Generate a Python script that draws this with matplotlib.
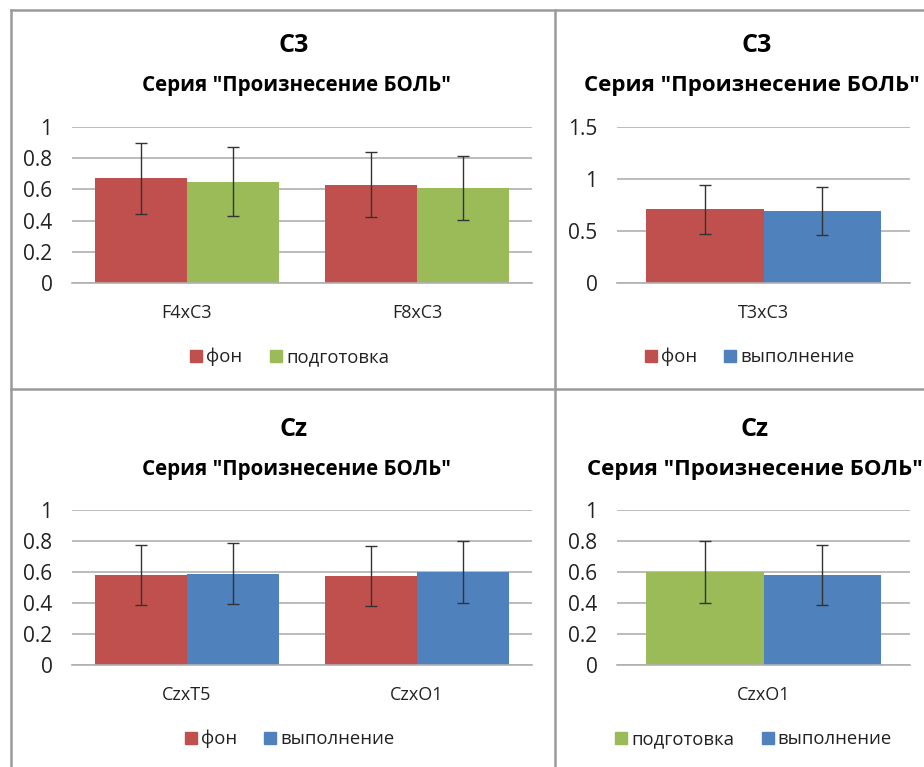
import matplotlib
matplotlib.use("Agg")
import matplotlib.pyplot as plt
from matplotlib.lines import Line2D
import numpy as np

plt.rcParams["font.family"] = ["Open Sans", "DejaVu Sans"]

W, H = 924, 767
RED = '#C0504D'
GREEN = '#9BBB59'
BLUE = '#4F81BD'

subtitle = 'Серия "Произнесение БОЛЬ"'

# panel 1: C3, фон vs подготовка
p1_cats = ['F4xC3', 'F8xC3']
p1_fon = [0.67, 0.63]
p1_fon_err = [0.225, 0.21]
p1_prep = [0.65, 0.61]
p1_prep_err = [0.22, 0.205]

# panel 2: C3, фон vs выполнение
p2_cats = ['T3xC3']
p2_fon = [0.71]
p2_fon_err = [0.235]
p2_exec = [0.69]
p2_exec_err = [0.23]

# panel 3: Cz, фон vs выполнение
p3_cats = ['CzxT5', 'CzxO1']
p3_fon = [0.58, 0.575]
p3_fon_err = [0.195, 0.195]
p3_exec = [0.59, 0.60]
p3_exec_err = [0.195, 0.20]

# panel 4: Cz, подготовка vs выполнение
p4_cats = ['CzxO1']
p4_prep = [0.60]
p4_prep_err = [0.20]
p4_exec = [0.58]
p4_exec_err = [0.195]


def rect(x0, y0, x1, y1):
    return [x0 / W, 1 - y1 / H, (x1 - x0) / W, (y1 - y0) / H]


def panel(fig, box, cats, s1, e1, c1, n1, s2, e2, c2, n2, yticks, title, tx, ty, sx, ssize, leg_x):
    ax = fig.add_axes(rect(*box))
    x = np.arange(len(cats))
    w = 0.4
    ax.bar(x - w / 2, s1, w, color=c1, zorder=2)
    ax.bar(x + w / 2, s2, w, color=c2, zorder=2)
    ax.errorbar(x - w / 2, s1, yerr=e1, fmt='none', ecolor='#333333', elinewidth=1, capsize=4, capthick=1, zorder=3)
    ax.errorbar(x + w / 2, s2, yerr=e2, fmt='none', ecolor='#333333', elinewidth=1, capsize=4, capthick=1, zorder=3)
    ax.set_xlim(-0.5, len(cats) - 0.5)
    ax.set_ylim(yticks[0], yticks[-1])
    ax.set_yticks(yticks)
    ax.set_yticklabels([('%g' % t) for t in yticks])
    ax.set_xticks(x)
    ax.set_xticklabels(cats, fontsize=13, color='#222222')
    ax.tick_params(axis='x', length=0, pad=15)
    ax.tick_params(axis='y', length=0, pad=14, labelsize=15, labelcolor='#222222')
    ax.yaxis.grid(True, color='#b0b0b0', lw=1.2, zorder=0)
    for s in ['top', 'right', 'left']:
        ax.spines[s].set_visible(False)
    ax.spines['bottom'].set_color('#b0b0b0')
    ax.spines['bottom'].set_linewidth(1.2)
    ax.set_facecolor('none')

    fig.text(tx / W, 1 - ty / H, title, ha='center', va='center', fontsize=18, fontweight='bold')
    fig.text(sx / W, 1 - (ty + 40) / H, subtitle, ha='center', va='center', fontsize=ssize, fontweight='bold')

    handles = [Line2D([], [], marker='s', color=c1, ls='none', markersize=9),
               Line2D([], [], marker='s', color=c2, ls='none', markersize=9)]
    leg_y = box[3] + 74
    fig.legend(handles, [n1, n2], loc='center', bbox_to_anchor=(leg_x / W, 1 - leg_y / H),
               ncol=2, frameon=False, fontsize=13.3, handletextpad=0.05, columnspacing=1.3,
               handlelength=1.0, labelcolor='#222222')
    return ax


fig = plt.figure(figsize=(W / 100, H / 100), dpi=100)

# panel frames
frame = dict(color='#9a9a9a', lw=1.8, transform=fig.transFigure, clip_on=False)
fig.add_artist(Line2D([11 / W, 11 / W], [1 - 10 / H, 0], **frame))
fig.add_artist(Line2D([11 / W, 1], [1 - 10 / H, 1 - 10 / H], **frame))
fig.add_artist(Line2D([555 / W, 555 / W], [1 - 10 / H, 0], **frame))
fig.add_artist(Line2D([11 / W, 1], [1 - 389 / H, 1 - 389 / H], **frame))

panel(fig, (72, 127, 532, 283), p1_cats, p1_fon, p1_fon_err, RED, 'фон',
      p1_prep, p1_prep_err, GREEN, 'подготовка', [0, 0.2, 0.4, 0.6, 0.8, 1.0],
      'C3', 294, 46, 296, 14.8, 288)
panel(fig, (617, 127, 910, 283), p2_cats, p2_fon, p2_fon_err, RED, 'фон',
      p2_exec, p2_exec_err, BLUE, 'выполнение', [0, 0.5, 1.0, 1.5],
      'C3', 757, 46, 752, 16, 748)
panel(fig, (72, 510, 532, 665), p3_cats, p3_fon, p3_fon_err, RED, 'фон',
      p3_exec, p3_exec_err, BLUE, 'выполнение', [0, 0.2, 0.4, 0.6, 0.8, 1.0],
      'Cz', 294, 430, 296, 14.8, 288)
panel(fig, (617, 510, 910, 665), p4_cats, p4_prep, p4_prep_err, GREEN, 'подготовка',
      p4_exec, p4_exec_err, BLUE, 'выполнение', [0, 0.2, 0.4, 0.6, 0.8, 1.0],
      'Cz', 755, 430, 755, 16, 752)

fig.savefig('out.png', dpi=100)
